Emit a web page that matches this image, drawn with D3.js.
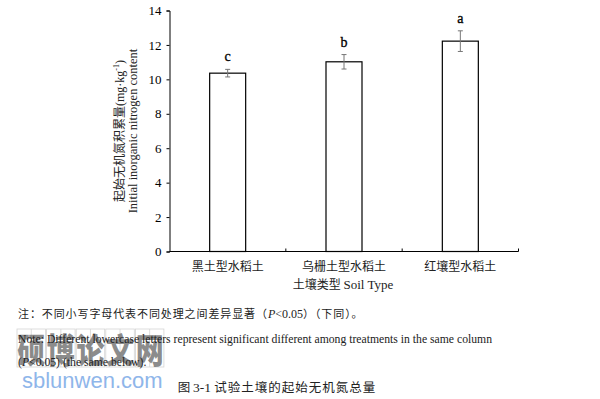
<!DOCTYPE html>
<html><head><meta charset="utf-8">
<script src="https://cdn.jsdelivr.net/npm/d3@7"></script>
<style>body{margin:0;background:#fff}svg{display:block}</style>
</head><body>
<script>
const categories = ["黑土型水稻土", "乌栅土型水稻土", "红壤型水稻土"];
const values = [10.36, 11.02, 12.22];
const errors = [0.22, 0.42, 0.6];
const letters = ["c", "b", "a"];
const yTicks = [0, 2, 4, 6, 8, 10, 12, 14];

const W = 600, H = 399;
const svg = d3.select("body").append("svg").attr("width", W).attr("height", H);
const serif = "'Liberation Serif','Times New Roman',serif";
const cjk = "'Noto Sans CJK SC',sans-serif";

const x0 = 169.5, x1 = 518.5, yTop = 10.5, yBot = 251.5;
const x = d3.scaleBand().domain(categories).range([x0, x1]).paddingInner(0).paddingOuter(0);
const y = d3.scaleLinear().domain([0, 14]).range([yBot, yTop]);
const barW = 36;

// Y axis
const yAxis = d3.axisLeft(y).tickValues(yTicks).tickSize(3).tickSizeOuter(3).tickPadding(5);
const gy = svg.append("g").attr("transform", `translate(${x0},0)`).call(yAxis);
gy.selectAll("text").attr("font-family", serif).attr("font-size", 13).attr("fill", "#000");
gy.selectAll("line,path").attr("stroke", "#000");

// X axis (line + inner ticks at band boundaries)
svg.append("line").attr("x1", x0).attr("x2", x1).attr("y1", yBot).attr("y2", yBot).attr("stroke", "#000");
const bounds = categories.map(c => x(c) + x.bandwidth());
svg.selectAll(".xt").data(bounds).enter().append("line")
  .attr("x1", d => d).attr("x2", d => d).attr("y1", yBot).attr("y2", yBot - 3).attr("stroke", "#000");
svg.selectAll(".xl").data(categories).enter().append("text")
  .attr("x", d => x(d) + x.bandwidth() / 2).attr("y", 271)
  .attr("text-anchor", "middle").attr("font-family", cjk).attr("font-size", 12).attr("fill", "#222")
  .text(d => d);

// Bars
svg.selectAll(".bar").data(categories).enter().append("rect")
  .attr("x", d => x(d) + x.bandwidth() / 2 - barW / 2)
  .attr("y", (d, i) => y(values[i]))
  .attr("width", barW)
  .attr("height", (d, i) => yBot - y(values[i]))
  .attr("fill", "#fff").attr("stroke", "#000").attr("stroke-width", 1.2);

// Error bars
categories.forEach((c, i) => {
  const cx = x(c) + x.bandwidth() / 2;
  const g = svg.append("g").attr("stroke", "#777").attr("stroke-width", 1);
  g.append("line").attr("x1", cx).attr("x2", cx).attr("y1", y(values[i] + errors[i])).attr("y2", y(values[i] - errors[i]));
  g.append("line").attr("x1", cx - 2.5).attr("x2", cx + 2.5).attr("y1", y(values[i] + errors[i])).attr("y2", y(values[i] + errors[i]));
  g.append("line").attr("x1", cx - 2.5).attr("x2", cx + 2.5).attr("y1", y(values[i] - errors[i])).attr("y2", y(values[i] - errors[i]));
  svg.append("text").attr("x", cx).attr("y", y(values[i] + errors[i]) - 8)
    .attr("text-anchor", "middle").attr("font-family", serif).attr("font-size", 14)
    .attr("fill", "#000").attr("stroke", "#000").attr("stroke-width", 0.3).text(letters[i]);
});

// Axis titles
svg.append("text").attr("x", 343).attr("y", 289).attr("text-anchor", "middle")
  .attr("font-size", 12).attr("fill", "#222")
  .call(t => {
    t.append("tspan").attr("font-family", cjk).text("土壤类型 ");
    t.append("tspan").attr("font-family", serif).attr("font-size", 13).text("Soil Type");
  });

const yt = svg.append("g").attr("transform", "translate(124,131) rotate(-90)");
const l1 = yt.append("text").attr("x", 0).attr("y", 0).attr("text-anchor", "middle").attr("fill", "#222");
l1.append("tspan").attr("font-family", cjk).attr("font-size", 12).text("起始无机氮积累量");
l1.append("tspan").attr("font-family", serif).attr("font-size", 12).text("(mg·kg");
l1.append("tspan").attr("font-family", serif).attr("font-size", 8).attr("dy", -5).text("-1");
l1.append("tspan").attr("font-family", serif).attr("font-size", 12).attr("dy", 5).text(")");
yt.append("text").attr("x", 0).attr("y", 13).attr("text-anchor", "middle").attr("fill", "#222")
  .attr("font-family", serif).attr("font-size", 12.5).text("Initial inorganic nitrogen content");

// Watermark (behind notes)
const wmChars = "硕博论文网".split("");
const wm = svg.append("g");
wmChars.forEach((ch, i) => {
  const bx = 17 + i * 29.6;
  wm.append("rect").attr("x", bx).attr("y", 329).attr("width", 28.5).attr("height", 38)
    .attr("fill", "none").attr("stroke", "#d4d4d4").attr("stroke-width", 0.8);
  wm.append("line").attr("x1", bx + 14.25).attr("x2", bx + 14.25).attr("y1", 329).attr("y2", 367)
    .attr("stroke", "#d4d4d4").attr("stroke-width", 0.8);
  wm.append("text").attr("x", bx + 14.25).attr("y", 363).attr("text-anchor", "middle")
    .attr("font-family", cjk).attr("font-weight", "900").attr("font-size", 34)
    .attr("textLength", 28).attr("lengthAdjust", "spacingAndGlyphs")
    .attr("fill", "#777").attr("fill-opacity", 0.85).text(ch);
});
svg.append("text").attr("x", 22).attr("y", 388).attr("font-family", "'Liberation Sans',Arial,sans-serif")
  .attr("font-size", 22).attr("fill", "#8fb6ea").text("sblunwen.com");

// Notes
svg.append("text").attr("x", 18).attr("y", 318).attr("font-size", 11).attr("fill", "#222")
  .call(t => {
    t.append("tspan").attr("font-family", cjk).attr("letter-spacing", 0.9).text("注：不同小写字母代表不同处理之间差异显著（");
    t.append("tspan").attr("font-family", serif).attr("font-style", "italic").attr("font-size", 12).text("P");
    t.append("tspan").attr("font-family", serif).attr("font-size", 12).text("<0.05");
    t.append("tspan").attr("font-family", cjk).attr("letter-spacing", 0.9).text("）（下同）。");
  });
svg.append("text").attr("x", 18).attr("y", 343).attr("font-family", serif).attr("font-size", 11.7).attr("fill", "#222")
  .text("Note: Different lowercase letters represent significant different among treatments in the same column");
svg.append("text").attr("x", 18).attr("y", 366).attr("font-family", serif).attr("font-size", 11.7).attr("fill", "#222")
  .call(t => {
    t.append("tspan").text("(");
    t.append("tspan").attr("font-style", "italic").text("P");
    t.append("tspan").text("<0.05) (the same below).");
  });

// Caption
svg.append("text").attr("x", 277).attr("y", 392).attr("text-anchor", "middle").attr("fill", "#222")
  .attr("font-size", 12.5)
  .call(t => {
    t.append("tspan").attr("font-family", cjk).text("图 ");
    t.append("tspan").attr("font-family", serif).attr("font-size", 13.5).text("3-1 ");
    t.append("tspan").attr("font-family", cjk).attr("letter-spacing", 1).text("试验土壤的起始无机氮总量");
  });
</script>
</body></html>
